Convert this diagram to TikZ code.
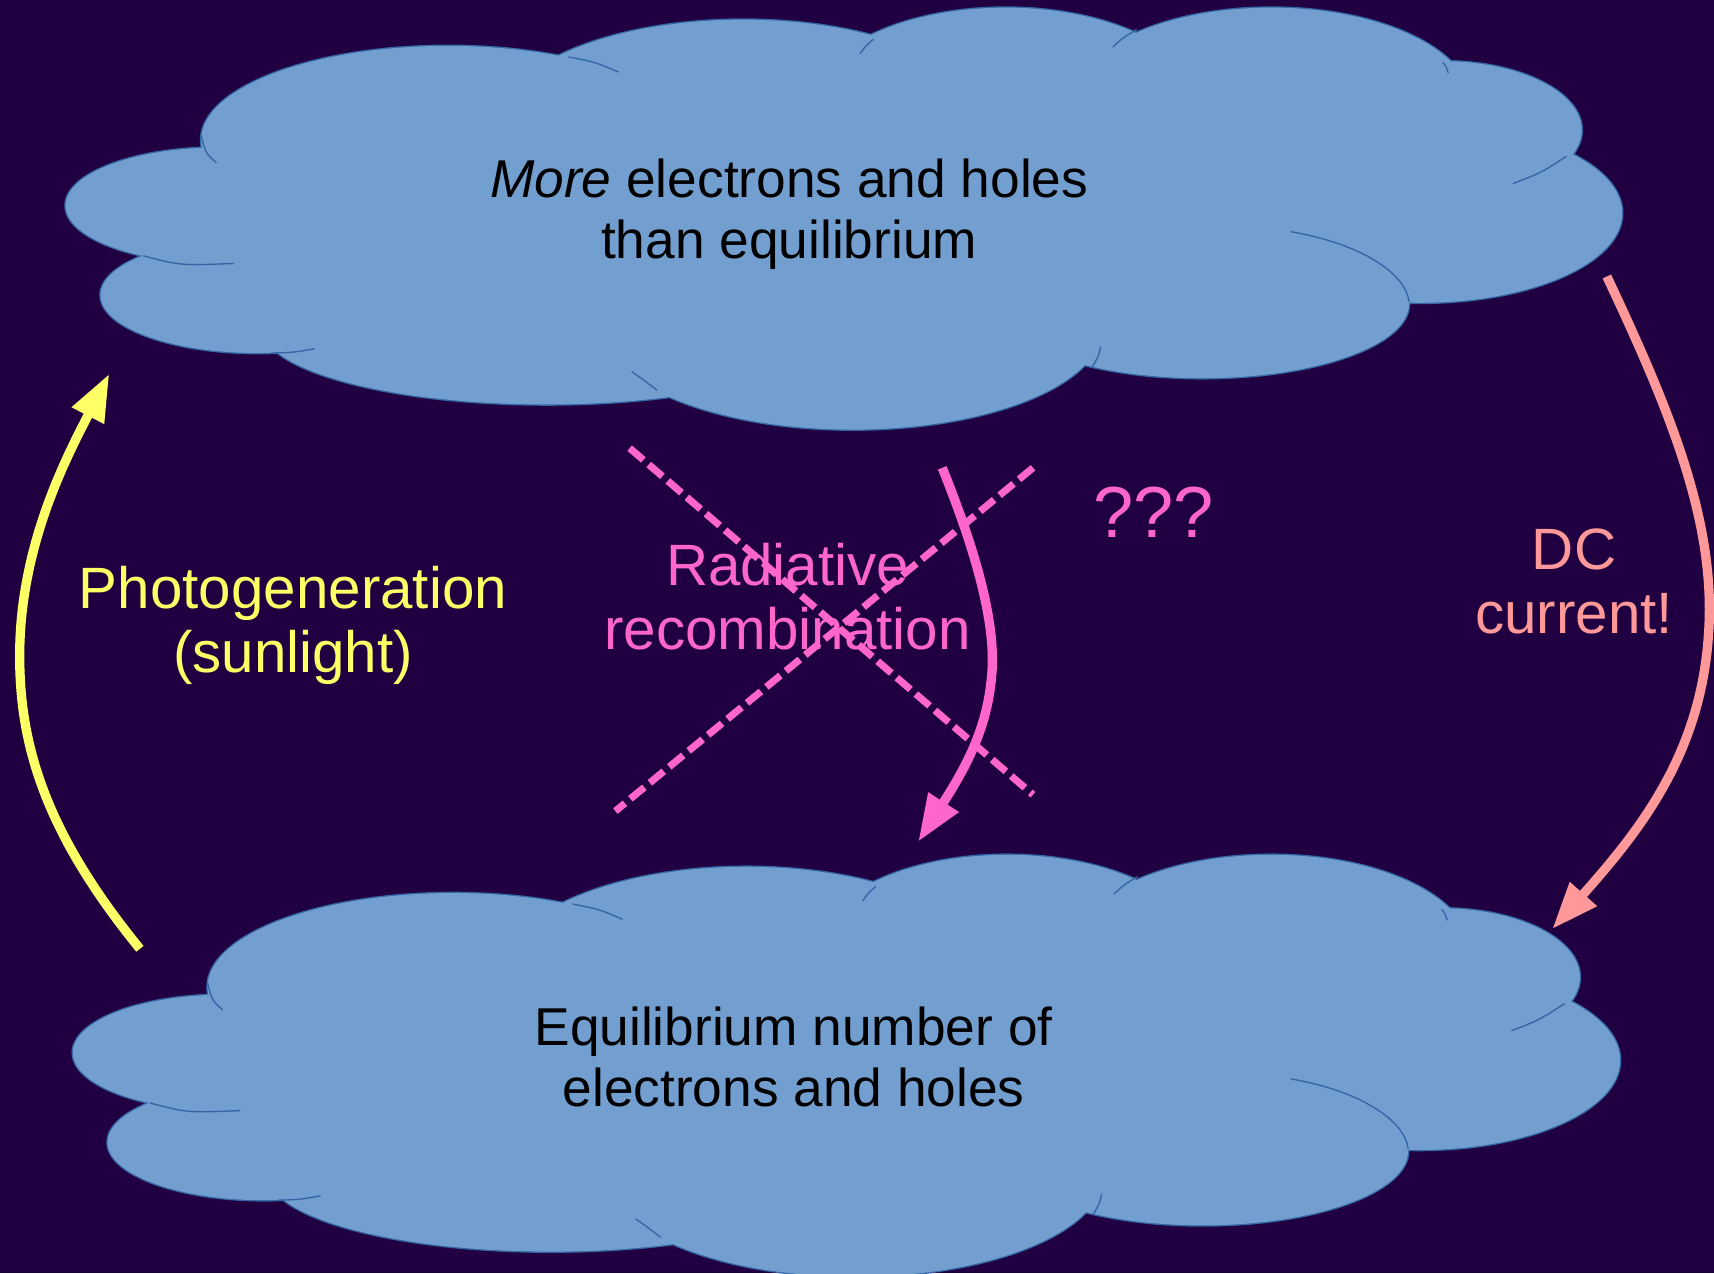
\documentclass[tikz,border=0pt]{standalone}
\usepackage{fontspec}
\setmainfont{Liberation Sans}
\usetikzlibrary{arrows.meta}
\definecolor{bg}{HTML}{200040}
\definecolor{cloudfill}{HTML}{729FCF}
\definecolor{cloudline}{HTML}{3465A4}
\definecolor{sunyellow}{HTML}{FFFF66}
\definecolor{recpink}{HTML}{FF66CC}
\definecolor{dcsalmon}{HTML}{FF9999}
\newcommand{\mycloudlobes}{%
 (200,188) ellipse [x radius=140, y radius=53]
 (236,270) ellipse [x radius=144, y radius=53]
 (410,128) ellipse [x radius=226, y radius=86]
 (680,115) ellipse [x radius=225, y radius=97]
 (920,97) ellipse [x radius=178, y radius=90]
 (1163,95) ellipse [x radius=183, y radius=88]
 (1320,119) ellipse [x radius=127, y radius=63]
 (1300,195) ellipse [x radius=184, y radius=82]
 (1100,278) ellipse [x radius=189, y radius=68]
 (780,300) ellipse [x radius=228, y radius=93]
 (500,300) ellipse [x radius=260, y radius=70]
}
\newcommand{\mycloudinner}{%
 (184,124) .. controls (188,140) .. (198,149)
 (131,234) .. controls (165,243) .. (214,241)
 (248,323) .. controls (268,322.5) .. (288,319)
 (520,52) .. controls (545,57) .. (566,66)
 (799,36) .. controls (792,42) .. (787,49)
 (1040,27) .. controls (1028,34) .. (1018,43)
 (1320,57) .. controls (1323,61) .. (1325,67)
 (1433,143) .. controls (1410,158) .. (1384,168)
 (1181,212) .. controls (1245,223) and (1286,250) .. (1289,276)
 (999,336) .. controls (1005,326) .. (1007,317)
 (601,357) .. controls (588,347) .. (578,340)
}
\newcommand{\mydrawcloud}{%
 \draw[cloudedge] \mycloudlobes;
 \fill[cloudfill] \mycloudlobes (770,200) ellipse [x radius=560, y radius=130];
 \draw[cloudinner] \mycloudinner;
}
\begin{document}
\begin{tikzpicture}[x=0.01cm, y=-0.01cm,
  cloudedge/.style={draw=cloudline, line width=0.7pt},
  cloudinner/.style={draw=cloudline, line width=0.35pt},
  blacktext/.style={align=center, inner sep=0pt, text=black,
    font=\fontsize{13.86pt}{15.65pt}\selectfont},
  coltext/.style={align=center, inner sep=0pt,
    font=\fontsize{15.17pt}{16.79pt}\selectfont},
  qtext/.style={inner sep=0pt, text=recpink,
    font=\fontsize{18.8pt}{21pt}\selectfont},
  bigarrow/.style={line width=0.085cm,
    -{Triangle[length=0.43cm, width=0.31cm]}},
  crossdash/.style={draw=recpink, line width=0.065cm,
    dash pattern=on 0.165cm off 0.065cm}]
\useasboundingbox (0,0) rectangle (1568,1165);
\clip (0,0) rectangle (1568,1165);
\fill[bg] (0,0) rectangle (1568,1165);
% top cloud
\begin{scope}
 \mydrawcloud
\end{scope}
% bottom cloud
\begin{scope}[shift={(6.96,775)}, xscale=0.994]
 \mydrawcloud
\end{scope}
% texts
\node[blacktext] (hot) at (722,196) {\textit{More} electrons and holes\\than equilibrium};
\node[blacktext] (eq) at (726,967) {Equilibrium number of\\electrons and holes};
\node[coltext, text=sunyellow] (photo) at (268,572) {Photogeneration\\(sunlight)};
\node[coltext, text=recpink] (rad) at (720.5,546) {Radiative\\recombination};
\node[qtext] (qqq) at (1055.5,468.5) {???};
\node[coltext, text=dcsalmon] (dc) at (1440,532) {DC\\current!};
% arrow end points
\coordinate (ys) at (128,868);
\coordinate (ye) at (100,342);
\coordinate (ps) at (862,428);
\coordinate (pe) at (840,770);
\coordinate (ss) at (1470,253);
\coordinate (se) at (1420,850);
\coordinate (xa) at (576,410);
\coordinate (xb) at (945,727);
\coordinate (xc) at (945,428);
\coordinate (xd) at (563,742);
% crossed-out radiative recombination
\draw[crossdash] (xa) -- (xb);
\draw[crossdash] (xc) -- (xd);
% arrows
\draw[bigarrow, sunyellow] (ys) .. controls (40,760) and (18,680) .. (18,600) .. controls (18,500) and (60,420) .. (ye);
\draw[bigarrow, recpink] (ps) .. controls (895,510) and (912,575) .. (907,620) .. controls (903,665) and (885,700) .. (pe);
\draw[bigarrow, dcsalmon] (ss) .. controls (1530,380) and (1570,480) .. (1563,580) .. controls (1556,690) and (1500,760) .. (se);
\end{tikzpicture}
\end{document}
